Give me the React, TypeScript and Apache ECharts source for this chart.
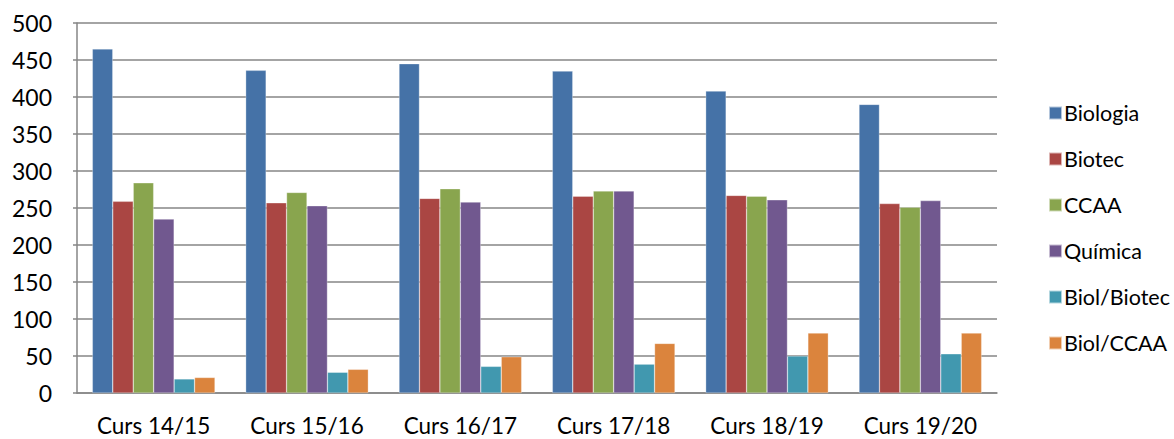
import React, { useEffect, useRef } from "react";
import * as echarts from "echarts";

const categories = ["Curs 14/15", "Curs 15/16", "Curs 16/17", "Curs 17/18", "Curs 18/19", "Curs 19/20"];
const seriesNames = ["Biologia", "Biotec", "CCAA", "Química", "Biol/Biotec", "Biol/CCAA"];
const biologia = [465, 436, 445, 435, 408, 390];
const biotec = [259, 257, 263, 266, 267, 256];
const ccaa = [284, 271, 276, 273, 266, 251];
const quimica = [235, 253, 258, 273, 261, 260];
const biolBiotec = [19, 28, 36, 39, 50, 53];
const biolCcaa = [21, 32, 49, 67, 81, 81];
const seriesValues = [biologia, biotec, ccaa, quimica, biolBiotec, biolCcaa];
const colors = ["#4572A7", "#AA4643", "#89A54E", "#71588F", "#4198AF", "#DB843D"];

const FONT = "Lato, 'Open Sans', sans-serif";

export default function App() {
  const ref = useRef<HTMLDivElement>(null);
  useEffect(() => {
    if (!ref.current) return;
    const chart = echarts.init(ref.current, null, { renderer: "svg" });
    chart.setOption({
      animation: false,
      backgroundColor: "#ffffff",
      color: colors,
      grid: { left: 77, right: 177, top: 23, bottom: 46, containLabel: false },
      legend: {
        orient: "vertical",
        left: 1043,
        top: 97,
        itemWidth: 13,
        itemHeight: 13,
        itemGap: 24,
        icon: "rect",
        textStyle: { fontFamily: FONT, fontSize: 21.5, lineHeight: 22, color: "#000", padding: [0, 0, 0, -3] },
        data: seriesNames,
      },
      xAxis: {
        type: "category",
        data: categories,
        axisLine: { lineStyle: { color: "#868686", width: 1.5 } },
        axisTick: { show: false },
        axisLabel: { fontFamily: FONT, fontSize: 22.5, lineHeight: 20, color: "#000", margin: 22 },
      },
      yAxis: {
        type: "value",
        min: 0,
        max: 500,
        interval: 50,
        axisLine: { show: true, lineStyle: { color: "#868686", width: 1.5 } },
        axisTick: { show: true, length: 4, lineStyle: { color: "#868686", width: 1.5 } },
        splitLine: { lineStyle: { color: "#868686", width: 1.5 } },
        axisLabel: { fontFamily: FONT, fontSize: 23, color: "#000", margin: 25 },
      },
      series: seriesNames.map((name, i) => ({
        name,
        type: "bar",
        data: seriesValues[i],
        barGap: "0%",
        barCategoryGap: "20%",
        itemStyle: { color: colors[i], borderColor: "rgba(255,255,255,0.6)", borderWidth: 0.5 },
      })),
    });
    return () => chart.dispose();
  }, []);
  return <div ref={ref} style={{ position: "fixed", left: 0, top: 0, width: 1174, height: 439 }} />;
}
